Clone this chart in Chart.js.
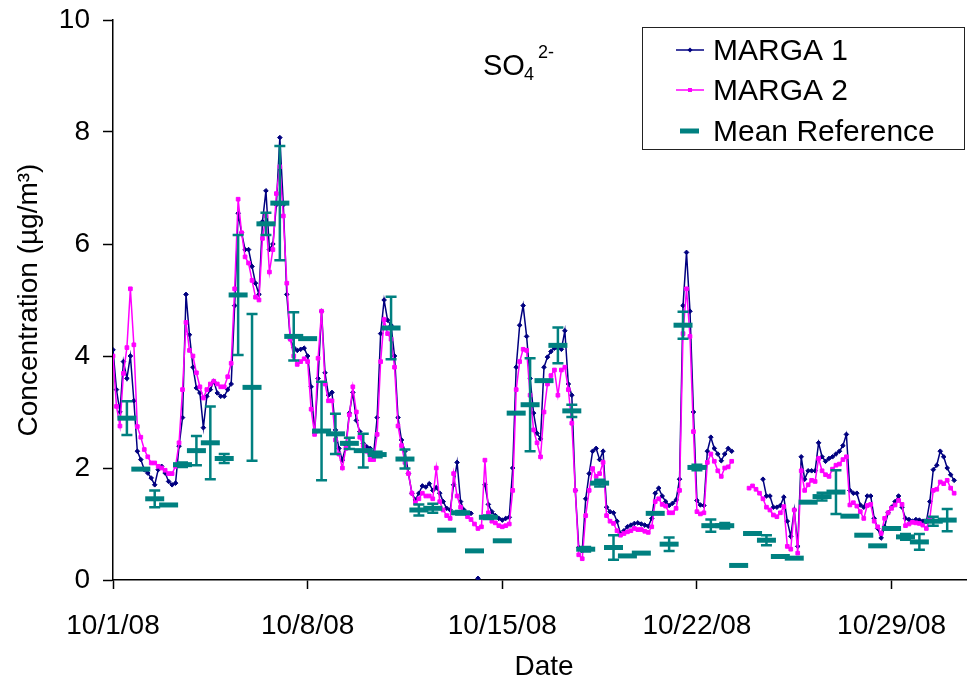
<!DOCTYPE html>
<html>
<head>
<meta charset="utf-8">
<script src="https://cdn.jsdelivr.net/npm/chart.js@4/dist/chart.umd.min.js"></script>
<style>
  html, body { margin: 0; padding: 0; background: #fff; overflow: hidden; }
  #wrap { width: 990px; height: 684px; }
</style>
</head>
<body>
<div id="wrap"><canvas id="so4Chart" width="990" height="684"></canvas></div>
<script>
'use strict';

// x axis is in days since 10/1/08
const TICK_DAYS = [0, 7, 14, 21, 28];
const DATE_LABELS = ['10/1/08', '10/8/08', '10/15/08', '10/22/08', '10/29/08'];
const Y_TICKS = [0, 2, 4, 6, 8, 10];

// MARGA samples every 3 h, one row per day
const STEP_DAYS = 3 / 24;

const MARGA1 = [
  4.11, 3.4, 3.0, 3.9, 3.6, 4.0, 3.2, 2.3,
  2.15, 1.97, 1.91, 1.82, 1.7, 1.97, 2.03, 1.91,
  1.76, 1.7, 1.73, 2.39, 2.9, 5.1, 4.38, 3.8,
  3.43, 3.34, 2.72, 3.28, 3.4, 3.55, 3.34, 3.28,
  3.28, 3.4, 3.5, 4.9, 6.55, 6.2, 5.9, 5.9,
  5.6, 5.3, 5.1, 6.4, 6.95, 5.9, 6.0, 6.7,
  7.9, 6.7, 5.1, 4.3, 4.15, 4.1, 4.12, 4.14,
  4.0, 3.45, 2.62, 3.6, 4.8, 3.7, 3.3, 3.35,
  2.68, 2.35, 2.14, 2.4, 2.98, 3.35, 2.85, 2.65,
  2.44, 2.38, 2.35, 2.26, 2.9, 4.4, 5.0, 4.64,
  4.55, 4.0, 2.9, 2.5, 2.3, 1.9, 1.55, 1.43,
  1.55, 1.68, 1.66, 1.72, 1.6, 1.65, 1.55, 1.4,
  1.28, 1.25, 1.7, 2.1, 1.4, 1.25, 1.19, 1.19,
  null, 0.03, null, 1.7, 1.35, 1.22, 1.15, 1.1,
  1.07, 1.1, 1.12, 2.0, 3.8, 4.55, 4.9, 4.35,
  3.6, 2.98, 2.62, 2.52, 3.8, 3.98, 4.08, 4.14,
  4.14, 4.12, 4.45, 3.5, 3.3, 1.6, 0.58, 0.52,
  1.45, 1.9, 2.3, 2.35, 2.15, 2.3, 1.3, 1.22,
  1.2, 1.05, 0.83, 0.88, 0.95, 0.98, 1.01, 1.02,
  1.0, 0.98, 0.96, 1.1, 1.55, 1.64, 1.5, 1.4,
  1.33, 1.37, 1.43, 1.8, 4.9, 5.85, 4.8, 3.0,
  1.42, 1.34, 1.33, 2.3, 2.55, 2.35, 2.25, 2.13,
  2.25, 2.35, 2.3, null, null, null, null, null,
  null, null, null, 1.8, 1.5, 1.5, 1.3, 1.3,
  1.33, 1.48, 1.05, 0.78, 1.25, 0.6, 2.2, 1.8,
  1.95, 1.95, 1.95, 2.45, 2.2, 2.12, 2.17, 2.2,
  2.25, 2.3, 2.4, 2.6, 1.6, 1.55, 1.55, 1.34,
  1.3, 1.5, 1.5, 1.1, 0.92, 0.75, 0.95, 1.2,
  1.3, 1.4, 1.5, 1.3, 1.1, 1.08, 1.05, 1.08,
  1.07, 1.05, 1.04, 1.4, 1.97, 2.05, 2.3, 2.2,
  2.0, 1.88, 1.78,
];

const MARGA2 = [
  4.0, 3.1, 2.75, 3.69, 4.15, 5.2, 4.2, 2.74,
  2.55, 2.33, 2.2, 2.09, 2.09, 2.03, 2.0, 1.96,
  1.9, 1.9, 2.03, 2.45, 3.4, 4.6, 4.1, 4.0,
  3.7, 3.45, 3.25, 3.4, 3.5, 3.55, 3.5, 3.45,
  3.45, 3.63, 3.87, 5.2, 6.8, 6.2, 5.77, 5.66,
  5.35, 5.05, 5.0, 6.1, 6.5, 5.5, 5.9, 6.9,
  7.38, 6.5, 5.3, 4.3, 4.0, 3.85, 3.9, 3.95,
  3.9, 3.05, 2.6, 3.96, 4.8, 3.5, 3.2, 3.2,
  2.5, 2.25, 2.0, 2.35, 2.95, 3.45, 3.0, 2.55,
  2.4, 2.3, 2.15, 2.15, 2.6, 3.9, 4.65, 4.4,
  4.3, 3.8, 2.75, 2.4, 2.1, 1.9, 1.55, 1.38,
  1.45, 1.55, 1.5, 1.5, 1.45, 2.0, 1.4, 1.25,
  1.15, 1.1, 1.9, 1.5, 1.3, 1.2, 1.13, 1.08,
  1.0, 0.92, 0.95, 2.14, 1.2, 1.05, 1.02, 0.97,
  0.95, 0.97, 1.0, 1.6, 3.4, 3.9, 4.12, 4.1,
  3.3, 2.68, 2.45, 2.2, 3.0, 3.5, 3.65, 3.75,
  3.3, 3.75, 3.8, 3.4, 2.8, 1.6, 0.45, 0.38,
  1.15, 1.6, 1.99, 1.85, 1.9, 2.1, 1.15, 1.05,
  1.01, 0.88, 0.8, 0.83, 0.86, 0.88, 0.92, 0.9,
  0.9, 0.87, 0.85, 0.95, 1.4, 1.45, 1.35, 1.32,
  1.2, 1.2, 1.28, 1.6, 4.4, 5.2, 4.35, 2.65,
  1.22, 1.18, 1.2, 2.1, 2.25, 2.12, 1.95, 1.85,
  2.0, 2.02, 2.12, null, null, null, null, 1.64,
  1.68, 1.62, 1.55, 1.45, 1.3, 1.25, 1.16, 1.13,
  1.2, 1.31, 0.6, 0.55, 1.25, 0.48, 1.95, 1.6,
  1.7, 1.78, 1.76, 2.17, 1.95, 1.88, 1.85, 1.98,
  2.05, 2.07, 2.15, 2.2, 1.34, 1.38, 1.32, 1.22,
  1.1, 1.33, 1.35, 1.05, 0.95, 0.83, 1.1, 1.2,
  1.28, 1.34, 1.42, 1.35, 0.97, 1.0, 1.03, 1.02,
  1.01, 0.98, 0.92, 1.1, 1.6, 1.62, 1.75, 1.72,
  1.78, 1.64, 1.55,
];

// 12-h reference samples, centred at day 0.5, 1.0, 1.5 ...
const REF_STEP_DAYS = 0.5;
const REF_MEAN = [
  2.89, 1.98, 1.45, 1.34, 2.06, 2.31, 2.45, 2.17, 5.09, 3.44,
  6.36, 6.73, 4.35, 4.31, 2.66, 2.61, 2.44, 2.31, 2.24, 4.5,
  2.16, 1.25, 1.28, 0.89, 1.2, 0.52, 1.12, 0.7, 2.98, 3.13,
  3.56, 4.19, 3.02, 0.55, 1.73, 0.58, 0.43, 0.48, 1.19, 0.64,
  4.55, 2.01, 0.97, 0.97, 0.26, 0.83, 0.71, 0.42, 0.39, 1.39,
  1.49, 1.57, 1.14, 0.8, 0.61, 0.92, 0.77, 0.68, 1.05, 1.07,
];
// +/- spread between the reference samplers
const REF_ERR = [
  0.3, 0, 0.15, 0, 0.04, 0.26, 0.65, 0.08, 1.07, 1.31,
  0.2, 1.02, 0.43, 0, 0.88, 0.36, 0.1, 0.3, 0.05, 0.56,
  0.17, 0.1, 0.08, 0, 0.03, 0, 0.03, 0, 0, 0.83,
  0, 0.32, 0.11, 0.04, 0.06, 0.22, 0, 0, 0, 0.12,
  0.24, 0.05, 0.11, 0.05, 0, 0, 0.09, 0, 0, 0,
  0.07, 0.39, 0, 0, 0, 0, 0.05, 0.14, 0.08, 0.2,
];

const NAVY = '#000080';
const MAGENTA = '#ff00ff';
const TEAL = '#008080';
const FONT = '"Liberation Sans", Arial, sans-serif';

Chart.defaults.font.family = FONT;
Chart.defaults.color = '#000';

const toPoints = (vals, step, offset = 0) => vals.map((v, i) => ({ x: offset + i * step, y: v }));

// vertical error bars with caps on the reference dashes
const errorBars = {
  id: 'errorBars',
  afterDatasetsDraw(chart) {
    const meta = chart.getDatasetMeta(2);
    const ys = chart.scales.y;
    const ctx = chart.ctx;
    ctx.save();
    ctx.strokeStyle = TEAL;
    ctx.lineWidth = 2.5;
    meta.data.forEach((pt, i) => {
      const e = REF_ERR[i];
      if (!e) return;
      const top = ys.getPixelForValue(REF_MEAN[i] + e);
      const bot = ys.getPixelForValue(REF_MEAN[i] - e);
      ctx.beginPath();
      ctx.moveTo(pt.x, top); ctx.lineTo(pt.x, bot);
      ctx.moveTo(pt.x - 5.5, top); ctx.lineTo(pt.x + 5.5, top);
      ctx.moveTo(pt.x - 5.5, bot); ctx.lineTo(pt.x + 5.5, bot);
      ctx.stroke();
    });
    ctx.restore();
  },
};

// species label and boxed legend
const decorations = {
  id: 'decorations',
  afterDraw(chart) {
    const ctx = chart.ctx;
    ctx.save();
    ctx.fillStyle = '#000';
    ctx.textBaseline = 'alphabetic';
    ctx.textAlign = 'left';
    ctx.font = `29px ${FONT}`;
    ctx.fillText('SO', 483, 75);
    ctx.font = `18px ${FONT}`;
    ctx.fillText('4', 524, 80);
    ctx.fillText('2-', 538, 58);

    // legend box
    ctx.fillStyle = '#fff';
    ctx.fillRect(642.5, 27.5, 322, 122);
    ctx.strokeStyle = '#222';
    ctx.lineWidth = 1;
    ctx.strokeRect(642.5, 27.5, 322, 122);

    const rows = [
      { label: 'MARGA 1', color: NAVY, y: 50, marker: 'diamond' },
      { label: 'MARGA 2', color: MAGENTA, y: 90, marker: 'square' },
      { label: 'Mean Reference', color: TEAL, y: 131, marker: 'dash' },
    ];
    rows.forEach(r => {
      ctx.strokeStyle = r.color;
      ctx.fillStyle = r.color;
      if (r.marker === 'dash') {
        ctx.lineWidth = 5;
        ctx.beginPath(); ctx.moveTo(680, r.y); ctx.lineTo(699, r.y); ctx.stroke();
      } else {
        ctx.lineWidth = 1.5;
        ctx.beginPath(); ctx.moveTo(676, r.y); ctx.lineTo(704, r.y); ctx.stroke();
        if (r.marker === 'square') {
          ctx.fillRect(688, r.y - 2, 4, 4);
        } else {
          ctx.beginPath();
          ctx.moveTo(690, r.y - 2.5); ctx.lineTo(692.5, r.y);
          ctx.lineTo(690, r.y + 2.5); ctx.lineTo(687.5, r.y);
          ctx.closePath(); ctx.fill();
        }
      }
      ctx.fillStyle = '#000';
      ctx.font = `30px ${FONT}`;
      ctx.fillText(r.label, 713, r.y + 10);
    });
    ctx.restore();
  },
};

new Chart(document.getElementById('so4Chart'), {
  type: 'line',
  data: {
    datasets: [{
      label: 'MARGA 1',
      data: toPoints(MARGA1, STEP_DAYS),
      borderColor: NAVY,
      backgroundColor: NAVY,
      borderWidth: 1.5,
      pointStyle: 'rectRot',
      pointRadius: 2.3,
      pointBorderWidth: 1,
      order: 2,
    }, {
      label: 'MARGA 2',
      data: toPoints(MARGA2, STEP_DAYS),
      borderColor: MAGENTA,
      backgroundColor: MAGENTA,
      borderWidth: 1.5,
      pointStyle: 'rect',
      pointRadius: 2.6,
      pointBorderWidth: 1,
      order: 1,
    }, {
      label: 'Mean Reference',
      data: toPoints(REF_MEAN, REF_STEP_DAYS, REF_STEP_DAYS),
      showLine: false,
      borderColor: TEAL,
      backgroundColor: TEAL,
      pointStyle: 'line',
      pointRadius: 9.5,
      pointBorderWidth: 5,
      order: 0,
    }],
  },
  options: {
    responsive: false,
    animation: false,
    layout: { autoPadding: false, padding: { top: 20, right: 15, left: 0, bottom: 0 } },
    plugins: {
      legend: { display: false },
      tooltip: { enabled: false },
    },
    elements: { line: { tension: 0 } },
    scales: {
      x: {
        type: 'linear',
        min: 0,
        max: 31,
        afterBuildTicks: s => { s.ticks = TICK_DAYS.map(v => ({ value: v })); },
        afterFit: s => { s.height = 104; },
        grid: { drawOnChartArea: false, color: '#000', tickLength: 9, tickWidth: 1.5 },
        border: { color: '#000', width: 1.5 },
        ticks: {
          font: { size: 28 },
          padding: 20,
          maxRotation: 0,
          callback: v => DATE_LABELS[TICK_DAYS.indexOf(v)] ?? '',
        },
        title: { display: true, text: 'Date', font: { size: 28 }, padding: { top: 0, bottom: 0 } },
      },
      y: {
        min: 0,
        max: 10,
        afterBuildTicks: s => { s.ticks = Y_TICKS.map(v => ({ value: v })); },
        // fixed axis width; the "10" label may hang above the plot top
        afterFit: s => { s.width = 113; s.paddingTop = 0; s.paddingBottom = 0; },
        grid: { drawOnChartArea: false, color: '#000', tickLength: 10, tickWidth: 1.5 },
        border: { color: '#000', width: 1.5 },
        ticks: { font: { size: 28 }, padding: 13 },
        title: { display: true, text: 'Concentration (µg/m³)', font: { size: 28 }, padding: { top: 12, bottom: 0 } },
      },
    },
  },
  plugins: [errorBars, decorations],
});
</script>
</body>
</html>
